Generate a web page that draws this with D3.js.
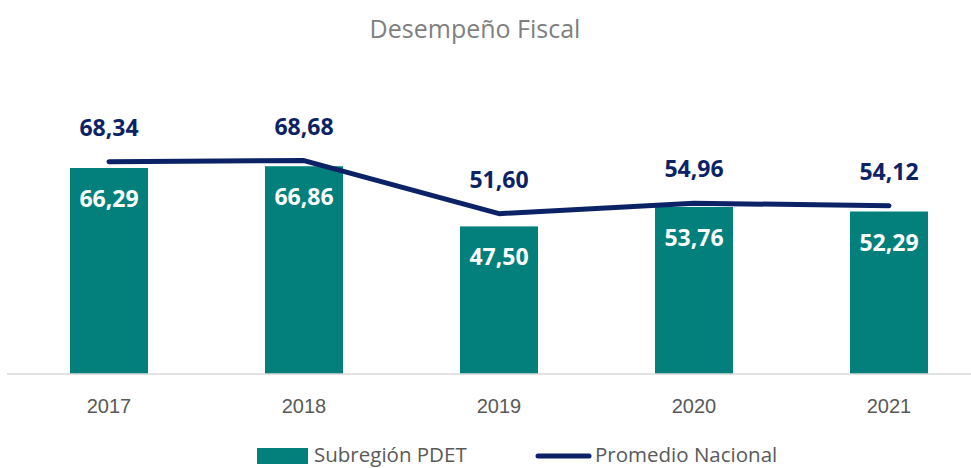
<!DOCTYPE html>
<html lang="es">
<head>
<meta charset="UTF-8">
<title>Desempeño Fiscal</title>
<style>
  body { margin: 0; background: #fff; }
  svg { display: block; font-family: "Open Sans", sans-serif; }
  .title { fill: #7f7f7f; font-size: 25px; text-anchor: middle; }
  .tick-label { fill: #595959; font-size: 20px; text-anchor: middle; }
  .legend-label { fill: #595959; font-size: 20.5px; }
  .bar-label { fill: #fff; font-size: 23px; font-weight: 700; text-anchor: middle; }
  .line-label { fill: #0b2366; font-size: 23px; font-weight: 700; text-anchor: middle; }
</style>
</head>
<body>
<script src="https://cdnjs.cloudflare.com/ajax/libs/d3/7.8.5/d3.min.js"></script>
<script>
const years = ["2017", "2018", "2019", "2020", "2021"];
const subregion = [66.29, 66.86, 47.50, 53.76, 52.29];
const nacional = [68.34, 68.68, 51.60, 54.96, 54.12];
const seriesNames = ["Subregión PDET", "Promedio Nacional"];

const width = 971, height = 468;
const barColor = "#03807b", lineColor = "#0b2366";
const fmt = v => v.toFixed(2).replace(".", ",");

const svg = d3.select("body").append("svg")
  .attr("width", width)
  .attr("height", height);

const x = d3.scaleBand()
  .domain(years)
  .range([11.5, 986.5])
  .paddingInner(0.6)
  .paddingOuter(0.3);

const y = d3.scaleLinear()
  .domain([0, 80])
  .range([374, 125.4]);

svg.append("text")
  .attr("class", "title")
  .attr("x", 475)
  .attr("y", 38)
  .text("Desempeño Fiscal");

// bars
svg.selectAll("rect.bar")
  .data(subregion)
  .enter().append("rect")
  .attr("class", "bar")
  .attr("x", (d, i) => x(years[i]))
  .attr("y", d => y(d))
  .attr("width", x.bandwidth())
  .attr("height", d => y(0) - y(d))
  .attr("fill", barColor);

// baseline axis
const axis = svg.append("g")
  .attr("transform", `translate(0,${y(0)})`)
  .call(d3.axisBottom(x).tickSize(0).tickPadding(24));
axis.select(".domain").attr("stroke", "#d9d9d9").attr("stroke-width", 1.5)
  .attr("d", `M7,0H${width}`);
axis.selectAll(".tick text")
  .attr("class", "tick-label")
  .attr("font-family", null).attr("font-size", null).attr("fill", null)
  .attr("dy", null).attr("y", 39);

// line
const line = d3.line()
  .x((d, i) => x(years[i]) + x.bandwidth() / 2)
  .y(d => y(d));

svg.append("path")
  .datum(nacional)
  .attr("d", line)
  .attr("fill", "none")
  .attr("stroke", lineColor)
  .attr("stroke-width", 5)
  .attr("stroke-linecap", "round")
  .attr("stroke-linejoin", "round");

// labels
svg.selectAll("text.bar-label")
  .data(subregion)
  .enter().append("text")
  .attr("class", "bar-label")
  .attr("x", (d, i) => x(years[i]) + x.bandwidth() / 2)
  .attr("y", d => y(d) + 39)
  .text(fmt);

svg.selectAll("text.line-label")
  .data(nacional)
  .enter().append("text")
  .attr("class", "line-label")
  .attr("x", (d, i) => x(years[i]) + x.bandwidth() / 2)
  .attr("y", d => y(d) - 26)
  .text(fmt);

// legend (kept just inside the bottom edge)
const legend = svg.append("g");
legend.append("rect")
  .attr("x", 257).attr("y", 448)
  .attr("width", 51).attr("height", 16)
  .attr("fill", barColor);
legend.append("text")
  .attr("class", "legend-label")
  .attr("x", 314).attr("y", 462)
  .text(seriesNames[0]);
legend.append("line")
  .attr("x1", 538).attr("x2", 589)
  .attr("y1", 456).attr("y2", 456)
  .attr("stroke", lineColor)
  .attr("stroke-width", 5)
  .attr("stroke-linecap", "round");
legend.append("text")
  .attr("class", "legend-label")
  .attr("x", 595).attr("y", 462)
  .text(seriesNames[1]);
</script>
</body>
</html>
